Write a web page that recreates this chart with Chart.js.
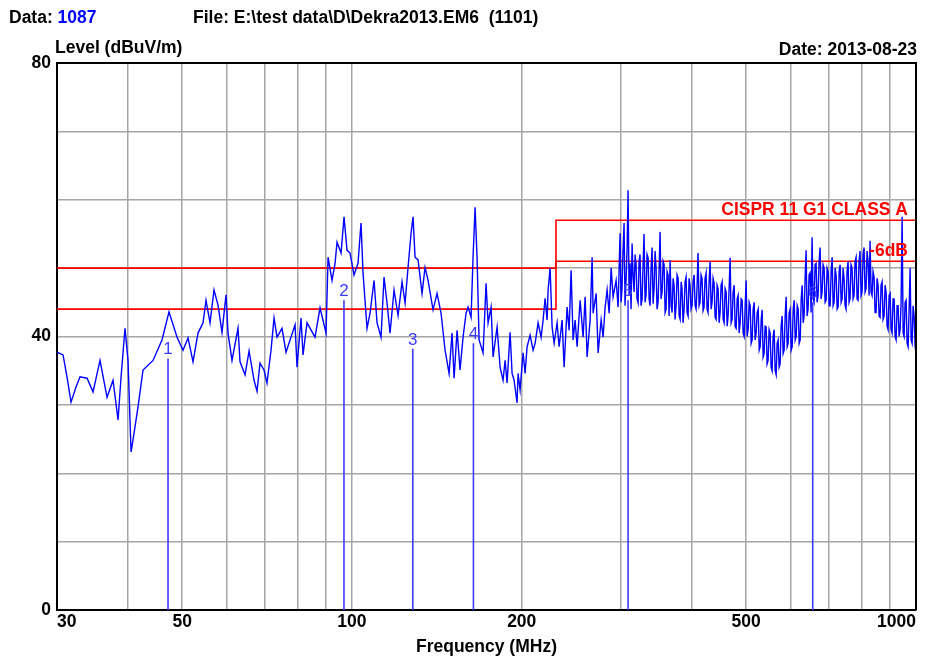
<!DOCTYPE html>
<html>
<head>
<meta charset="utf-8">
<script src="https://cdn.jsdelivr.net/npm/chart.js@4.4.1/dist/chart.umd.min.js"></script>
<style>
  html, body { margin: 0; padding: 0; background: #fff; }
  #wrap { width: 931px; height: 657px; }
</style>
</head>
<body>
<div id="wrap"><canvas id="myChart" width="931" height="657"></canvas></div>
<script>
// scan trace, frequency in MHz / level in dBuV/m
var traceFreq = [
    30.0, 30.75, 31.25, 31.77, 32.42, 32.96, 33.92, 34.75, 35.76, 36.80, 37.71, 38.49, 38.96, 39.60, 40.09, 40.59, 40.92, 41.76, 42.62, 44.40,
    46.05, 47.39, 48.97, 50.18, 51.22, 52.27, 53.35, 54.45, 55.12, 56.03, 56.95, 57.89, 58.84, 59.81, 60.30, 61.29, 62.81, 63.33, 64.64, 65.71,
    67.06, 67.88, 68.71, 69.84, 70.70, 71.87, 72.76, 73.66, 75.17, 76.41, 77.67, 79.28, 79.92, 81.23, 81.90, 83.25, 86.01, 87.79, 89.97, 90.71,
    92.20, 93.34, 94.10, 95.65, 96.83, 98.02, 99.22, 100.86, 102.51, 103.78, 104.63, 106.36, 107.67, 109.45, 110.79, 112.61, 114.0, 115.40, 116.83, 118.76,
    120.71, 122.70, 124.22, 125.74, 127.29, 128.33, 129.39, 130.98, 133.14, 134.79, 136.44, 139.25, 141.55, 143.88, 146.26, 148.66, 150.49, 151.73, 153.60, 155.49,
    157.40, 159.35, 160.65, 162.63, 163.96, 165.32, 166.67, 168.04, 170.80, 172.90, 174.32, 176.48, 177.92, 180.86, 183.08, 185.33, 186.87, 188.39, 190.71, 192.27,
    193.86, 196.24, 197.04, 198.66, 201.10, 202.77, 204.42, 206.94, 209.49, 211.22, 213.81, 216.45, 218.22, 220.03, 221.82, 222.73, 224.55, 226.39, 228.26, 231.06,
    232.97, 235.83, 237.77, 240.69, 242.68, 244.66, 246.66, 248.70, 250.73, 253.82, 256.94, 259.08, 261.18, 264.40, 266.57, 267.65, 270.96, 273.18, 276.55, 278.81,
    281.12, 283.41, 285.75, 288.1, 290.4, 294.0, 296.4,
    298.8, 300.0, 301.2, 302.4, 303.7, 304.9, 306.2, 307.5, 308.7, 310.0, 311.2, 312.5, 313.8, 315.1, 316.4, 317.7, 318.9, 320.2, 321.6, 322.9,
    324.2, 325.5, 326.9, 328.2, 329.5, 330.9, 332.2, 333.6, 335.0, 336.4, 337.7, 339.1, 340.5, 341.9, 343.3, 344.7, 346.1, 347.5, 348.9, 350.3,
    351.8, 353.2, 354.7, 356.2, 357.6, 359.1, 360.5, 362.0, 363.5, 365.0, 366.5, 368.0, 369.5, 371.0, 372.5, 374.0, 375.6, 377.1, 378.7, 380.3,
    381.8, 383.4, 384.8, 386.4, 388.0, 389.6, 391.2, 392.8, 394.4, 396.0, 397.6, 399.2, 400.9, 402.5, 404.2, 405.9, 407.5, 409.2, 410.8, 412.5,
    414.2, 415.9, 417.6, 419.3, 421.0, 422.7, 424.5, 426.2, 427.9, 429.7, 431.5, 433.3, 435.0, 436.8, 438.6, 440.4, 442.2, 444.0, 445.8, 447.6,
    449.5, 451.3, 453.2, 455.1, 456.9, 458.8, 460.7, 462.6, 464.4, 466.3, 468.3, 470.2, 472.1, 474.0, 476.0, 477.9, 479.9, 481.9, 483.8, 485.8,
    487.8, 489.8, 491.8, 493.8, 495.9, 497.9, 499.9, 501.9, 504.0, 506.1, 508.2, 510.3, 512.3, 514.4, 516.5, 518.6, 520.8, 522.9, 525.1, 527.3,
    529.4, 531.6, 533.6, 535.8, 537.9, 540.1, 542.4, 544.6, 546.8, 549.0, 551.3, 553.6, 555.8, 558.1, 560.4, 562.7, 565.0, 567.3, 569.6, 571.9,
    574.3, 576.6, 579.0, 581.4, 583.8, 586.2, 588.6, 591.0, 593.4, 595.8, 598.3, 600.8, 603.2, 605.7, 608.2, 610.7, 613.2, 615.7, 618.2, 620.7,
    623.3, 625.9, 628.4, 630.9, 633.3, 635.9, 638.5, 641.1, 643.7, 646.3, 649.0, 651.7, 654.3, 657.0, 659.7, 662.4, 665.1, 667.8, 670.6, 673.3,
    676.1, 678.9, 681.6, 684.4, 687.2, 690.0, 692.9, 695.7, 698.6, 701.5, 704.3, 707.2, 710.1, 713.0, 715.9, 718.8, 721.8, 724.8, 727.7, 730.7,
    733.7, 736.7, 739.6, 742.6, 745.5, 748.6, 751.6, 754.7, 757.8, 760.9, 764.0, 767.1, 770.3, 773.5, 776.6, 779.8, 783.0, 786.2, 789.4, 792.6,
    795.9, 799.2, 802.4, 805.7, 809.0, 812.3, 815.6, 818.9, 822.3, 825.7, 829.0, 832.4, 835.8, 839.2, 842.7, 846.2, 849.6, 853.1, 856.6, 860.1,
    863.6, 867.1, 870.7, 874.3, 877.9, 881.5, 885.1, 888.7, 892.3, 896.0, 899.7, 903.4, 907.0, 910.7, 914.5, 918.2, 922.0, 925.8, 929.5, 933.3,
    937.2, 941.0, 944.9, 948.8, 952.6, 956.5, 960.4, 964.3, 968.3, 972.3, 976.2, 980.2, 984.2, 988.2, 992.3, 996.4, 1000
];
var traceLevel = [
    37.7, 37.3, 34.1, 30.4, 32.6, 34.1, 33.9, 31.9, 36.5, 31.1, 33.6, 27.8, 34.0, 41.2, 36.5, 23.1, 24.9, 29.7, 35.1, 36.5,
    39.5, 43.6, 39.9, 38.0, 39.8, 36.3, 40.5, 42.0, 45.3, 42.0, 46.8, 44.6, 40.6, 46.1, 40.5, 36.5, 41.2, 36.3, 34.4, 37.9,
    33.6, 32.0, 36.1, 35.1, 33.2, 38.0, 42.7, 39.9, 41.2, 37.7, 39.5, 41.7, 35.5, 42.7, 37.3, 42.0, 39.9, 44.2, 40.5, 51.6,
    48.2, 50.7, 53.8, 52.2, 57.5, 52.6, 52.2, 49.0, 50.7, 56.6, 49.3, 41.2, 43.4, 48.2, 42.0, 39.9, 48.7, 44.9, 40.5, 46.8,
    43.1, 48.0, 44.9, 50.1, 55.1, 57.5, 51.6, 51.2, 46.3, 50.1, 48.2, 43.9, 46.3, 43.4, 38.0, 34.6, 40.5, 33.9, 40.9, 35.1,
    39.9, 43.4, 44.3, 42.8, 51.6, 58.9, 51.5, 39.5, 37.6, 47.8, 42.0, 44.3, 37.0, 41.4, 35.5, 33.6, 36.5, 33.2, 40.6, 34.6,
    33.6, 30.3, 34.6, 32.2, 37.6, 34.6, 38.5, 40.2, 38.0, 39.0, 42.0, 39.9, 42.4, 45.6, 42.4, 46.8, 50.0, 41.4, 39.0, 42.0,
    38.5, 42.4, 35.5, 44.3, 40.9, 49.7, 39.5, 42.4, 38.5, 45.3, 39.9, 45.8, 37.0, 42.4, 51.6, 43.4, 46.3, 37.6, 42.4, 39.9,
    44.3, 46.8, 43.4, 50.0, 45.8, 48.2, 44.3,
    55.1, 45.0, 47.0, 52.5, 56.6, 44.5, 48.2, 53.0, 61.4, 46.0, 50.7, 44.0, 53.6, 49.0, 46.5, 52.0, 50.7, 45.5, 44.9, 51.0,
    52.0, 44.5, 45.5, 50.5, 55.0, 45.0, 46.0, 52.0, 51.5, 45.5, 44.5, 50.0, 53.0, 44.8, 47.0, 52.5, 50.0, 44.0, 45.0, 49.5,
    55.3, 45.5, 46.5, 51.0, 50.5, 43.5, 44.0, 49.5, 49.0, 43.0, 51.2, 44.5, 43.5, 48.5, 47.5, 42.5, 44.5, 49.0, 48.5, 43.0,
    42.5, 48.0, 47.0, 42.0, 44.0, 48.0, 48.7, 43.5, 43.0, 48.5, 47.5, 44.0, 44.5, 48.0, 49.0, 44.5, 44.0, 47.5, 52.2, 44.5,
    45.0, 49.0, 48.5, 43.8, 44.3, 48.5, 49.3, 44.0, 43.5, 48.0, 51.0, 44.0, 45.0, 48.5, 47.8, 42.8, 42.5, 47.5, 47.0, 42.0,
    43.5, 47.5, 48.0, 42.5, 42.0, 47.0, 46.5, 41.5, 43.0, 47.0, 51.5, 42.0, 42.5, 46.5, 47.5, 41.5, 41.2, 45.5, 46.0, 40.5,
    42.0, 45.5, 45.3, 40.5, 40.0, 44.5, 48.2, 40.0, 41.0, 45.0, 44.5, 39.0, 39.5, 44.0, 45.0, 39.5, 40.5, 43.5, 44.0, 38.0,
    38.5, 42.5, 43.9, 37.0, 37.5, 41.5, 41.4, 36.0, 36.5, 41.0, 40.5, 35.5, 35.0, 40.0, 41.0, 35.0, 34.4, 39.0, 39.5, 35.5,
    36.0, 41.5, 43.0, 37.5, 38.0, 43.0, 45.8, 38.5, 39.0, 43.5, 44.0, 38.0, 38.5, 44.0, 45.3, 39.5, 40.0, 44.5, 44.0, 39.0,
    39.5, 45.5, 47.5, 42.0, 43.0, 48.5, 52.6, 43.0, 44.0, 49.0, 49.3, 43.5, 54.5, 45.5, 45.0, 50.5, 50.7, 45.0, 46.0, 51.0,
    53.0, 45.5, 46.5, 50.5, 50.0, 45.0, 45.3, 50.0, 49.5, 44.5, 44.5, 49.5, 51.6, 44.5, 45.0, 50.0, 49.0, 44.0, 44.3, 49.5,
    50.5, 45.0, 45.5, 50.0, 48.5, 44.5, 44.0, 49.5, 51.0, 45.0, 45.5, 50.5, 50.0, 45.5, 46.0, 51.0, 51.6, 45.5, 45.3, 51.0,
    52.5, 46.0, 46.5, 52.0, 53.0, 46.5, 47.0, 52.5, 51.0, 46.0, 54.0, 46.5, 46.0, 49.5, 48.7, 43.5, 43.5, 48.5, 47.5, 43.0,
    42.8, 47.5, 48.0, 42.5, 43.0, 47.5, 46.5, 41.5, 41.0, 46.0, 46.3, 41.0, 40.5, 45.5, 45.5, 40.0, 39.5, 44.5, 44.5, 40.0,
    41.0, 45.0, 57.5, 40.5, 40.0, 45.0, 45.3, 39.0, 38.5, 44.0, 50.0, 39.5, 39.0, 44.5, 43.0, 38.5, 37.6
];

// limit line CISPR 11 group 1 class A and the -6dB margin
var limitFreq = [30, 230, 230, 1000];
var limitLevel = [50, 50, 57, 57];
var marginLevel = [44, 44, 51, 51];

// peak markers
var markerName = ['1', '2', '3', '4', '5', '6'];
var markerFreq = [47.2, 96.8, 128.2, 164.2, 308.7, 656.0];
var markerLevel = [36.8, 45.3, 38.2, 39.0, 45.3, 45.0];

// axis ticks
var xGridTicks = [30, 40, 50, 60, 70, 80, 90, 100, 200, 300, 400, 500, 600, 700, 800, 900, 1000];
var xLabelTicks = [30, 50, 100, 200, 500, 1000];
var yLabelTicks = [0, 40, 80];

var FONT = "'Liberation Sans', Arial, sans-serif";

function toPoints(xs, ys) {
    return xs.map(function (x, i) { return { x: x, y: ys[i] }; });
}

var datasets = [{
    data: toPoints(traceFreq, traceLevel),
    borderColor: "#0000ff",
    borderWidth: 1.4,
    pointRadius: 0,
    tension: 0
}];

markerFreq.forEach(function (f, i) {
    datasets.push({
        data: [{ x: f, y: 0 }, { x: f, y: markerLevel[i] }],
        borderColor: "#3c3cff",
        borderWidth: 1.6,
        pointRadius: 0
    });
});

datasets.push({
    data: toPoints(limitFreq, limitLevel),
    borderColor: "#ff0000",
    borderWidth: 1.6,
    pointRadius: 0
});
datasets.push({
    data: toPoints(limitFreq, marginLevel),
    borderColor: "#ff0000",
    borderWidth: 1.6,
    pointRadius: 0
});

var textPlugin = {
    id: 'texts',
    beforeDraw: function (chart) {
        var c = chart.ctx;
        c.save();
        c.fillStyle = '#fff';
        c.fillRect(0, 0, chart.width, chart.height);
        c.restore();
    },
    afterDatasetsDraw: function (chart) {
        var c = chart.ctx;
        var xs = chart.scales.x, ys = chart.scales.y;
        var a = chart.chartArea;
        c.save();

        // top and right frame
        c.strokeStyle = '#000';
        c.lineWidth = 2;
        c.beginPath();
        c.moveTo(a.left, a.top);
        c.lineTo(a.right, a.top);
        c.lineTo(a.right, a.bottom);
        c.stroke();

        // marker numbers
        c.font = "17px " + FONT;
        c.fillStyle = '#3c3cff';
        c.textAlign = 'center';
        c.textBaseline = 'alphabetic';
        markerFreq.forEach(function (f, i) {
            c.fillText(markerName[i], xs.getPixelForValue(f), ys.getPixelForValue(markerLevel[i]) - 4);
        });

        // limit labels
        c.font = "bold 17.5px " + FONT;
        c.fillStyle = '#ff0000';
        c.textAlign = 'right';
        c.fillText('CISPR 11 G1 CLASS A', a.right - 8, ys.getPixelForValue(limitLevel[3]) - 5);
        c.fillText('-6dB', a.right - 8, ys.getPixelForValue(marginLevel[3]) - 5);

        // header
        c.textAlign = 'left';
        c.fillStyle = '#000';
        c.fillText('Data:', 9, 23);
        var w = c.measureText('Data: ').width;
        c.fillStyle = '#0000ff';
        c.fillText('1087', 9 + w, 23);
        c.fillStyle = '#000';
        c.fillText('File: E:\\test data\\D\\Dekra2013.EM6  (1101)', 193, 23);
        c.fillText('Level (dBuV/m)', 55, 53);
        c.textAlign = 'right';
        c.fillText('Date: 2013-08-23', 917, 55);
        c.textAlign = 'center';
        c.fillText('Frequency (MHz)', (a.left + a.right) / 2, 652);
        c.restore();
    }
};

var ctx = document.getElementById('myChart');
var myChart = new Chart(ctx, {
    type: 'line',
    data: { datasets: datasets },
    options: {
        responsive: false,
        animation: false,
        devicePixelRatio: 1,
        layout: { padding: { top: 63, right: 15, left: 0, bottom: 0 } },
        plugins: {
            legend: { display: false },
            tooltip: { enabled: false },
            title: { display: false }
        },
        scales: {
            x: {
                type: 'logarithmic',
                min: 30,
                max: 1000,
                afterBuildTicks: function (scale) {
                    scale.ticks = xGridTicks.map(function (v) { return { value: v }; });
                },
                afterFit: function (scale) { scale.height = 47; },
                grid: { color: '#a6a6a6', lineWidth: 1.5, drawTicks: false },
                border: { display: true, color: '#000', width: 2 },
                ticks: {
                    autoSkip: false,
                    maxRotation: 0,
                    align: 'inner',
                    padding: 2,
                    color: '#000',
                    font: { family: FONT, size: 17.5, weight: 'bold' },
                    callback: function (v) { return xLabelTicks.indexOf(v) >= 0 ? String(v) : ''; }
                }
            },
            y: {
                min: 0,
                max: 80,
                afterFit: function (scale) { scale.width = 57; },
                grid: { color: '#a6a6a6', lineWidth: 1.5, drawTicks: false },
                border: { display: true, color: '#000', width: 2 },
                ticks: {
                    stepSize: 10,
                    padding: 6,
                    color: '#000',
                    font: { family: FONT, size: 17.5, weight: 'bold' },
                    callback: function (v) { return yLabelTicks.indexOf(v) >= 0 ? String(v) : ''; }
                }
            }
        }
    },
    plugins: [textPlugin]
});
</script>
</body>
</html>
